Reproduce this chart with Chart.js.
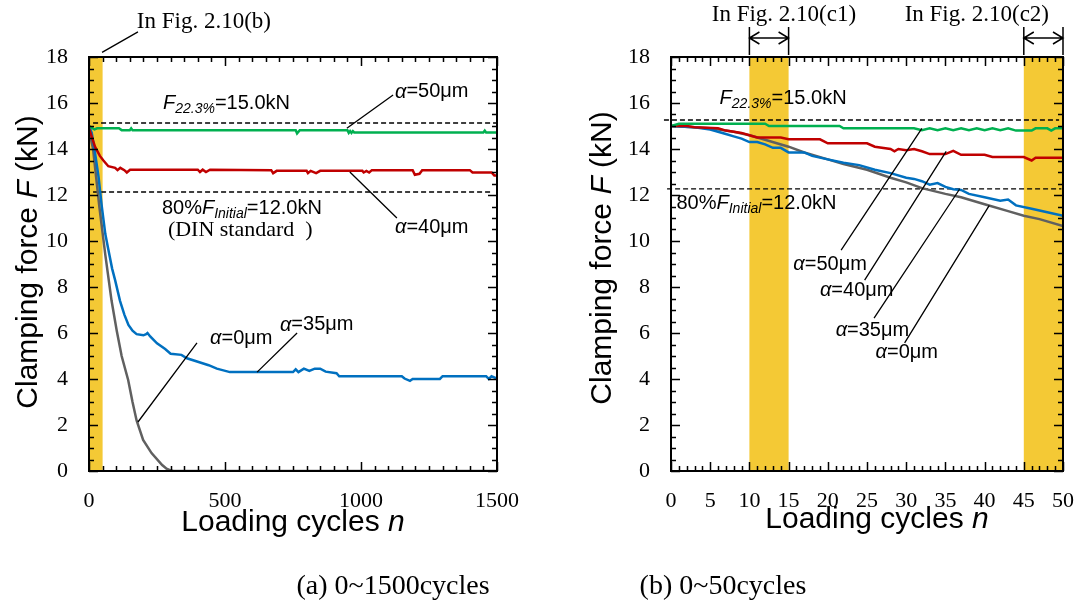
<!DOCTYPE html>
<html>
<head>
<meta charset="utf-8">
<script src="https://cdn.jsdelivr.net/npm/chart.js@4.4.1/dist/chart.umd.min.js"></script>
<style>
  body { margin: 0; background: #fff; }
  #fig { position: relative; width: 1091px; height: 605px; }
  #chartA { position: absolute; left: 0; top: 0; }
  #chartB { position: absolute; left: 545px; top: 0; }
</style>
</head>
<body>
<div id="fig">
  <canvas id="chartA" width="545" height="605"></canvas>
  <canvas id="chartB" width="546" height="605"></canvas>
</div>
<script>
// (a) 0~1500 cycles
const cyclesA50 = [0, 20, 30, 110, 120, 150, 155, 160, 760, 765, 775, 950, 955, 960, 965, 970, 975, 985, 1450, 1455, 1460, 1500];
const forceA50 = [15.0, 14.85, 14.9, 14.9, 14.82, 14.82, 14.9, 14.82, 14.82, 14.68, 14.82, 14.82, 14.7, 14.78, 14.7, 14.78, 14.72, 14.72, 14.72, 14.8, 14.72, 14.72];

const cyclesA40 = [0, 22, 40, 53, 71, 96, 105, 115, 130, 139, 151, 400, 408, 418, 430, 445, 670, 677, 690, 800, 805, 815, 835, 850, 1005, 1010, 1020, 1030, 1040, 1190, 1198, 1215, 1225, 1400, 1410, 1480, 1490, 1500];
const forceA40 = [14.9, 14.1, 13.7, 13.5, 13.25, 13.18, 13.08, 13.18, 13.08, 12.98, 13.1, 13.1, 13.0, 13.1, 13.0, 13.1, 13.08, 12.95, 13.05, 13.05, 12.95, 13.05, 12.95, 13.05, 13.05, 12.98, 13.05, 12.98, 13.08, 13.08, 12.88, 12.92, 13.08, 13.08, 12.98, 12.98, 12.85, 12.85];

const cyclesA35 = [0, 10, 20, 35, 47, 60, 70, 85, 96, 114, 130, 145, 160, 175, 200, 210, 215, 225, 250, 280, 300, 340, 360, 400, 440, 470, 518, 750, 760, 770, 790, 810, 830, 850, 870, 910, 920, 1150, 1160, 1180, 1190, 1290, 1300, 1460, 1470, 1480, 1500];
const forceA35 = [15.0, 14.7, 14.0, 12.8, 11.5, 10.3, 9.7, 8.8, 8.3, 7.4, 6.8, 6.35, 6.1, 5.95, 5.9, 5.95, 6.0, 5.85, 5.55, 5.3, 5.1, 5.05, 4.9, 4.75, 4.6, 4.45, 4.3, 4.3, 4.42, 4.3, 4.45, 4.35, 4.45, 4.45, 4.32, 4.25, 4.12, 4.12, 4.02, 3.92, 4.0, 4.0, 4.12, 4.12, 4.0, 4.12, 4.02];

const cyclesA0 = [0, 15, 38, 60, 83, 102, 120, 144, 160, 175, 199, 230, 269, 285, 300, 310, 1500];
const forceA0 = [14.8, 14.0, 11.5, 9.4, 7.4, 6.1, 5.0, 3.96, 3.0, 2.2, 1.35, 0.78, 0.26, 0.1, 0.03, 0, 0];

// (b) 0~50 cycles
const cyclesB50 = [0, 1, 12, 12.5, 21.5, 22, 31, 32, 33, 34, 35, 36, 37, 38, 39, 40, 41, 42, 43, 44, 46, 46.5, 48, 48.5, 49, 50];
const forceB50 = [15.0, 15.1, 15.1, 15.0, 15.0, 14.9, 14.9, 14.82, 14.9, 14.82, 14.9, 14.82, 14.9, 14.82, 14.9, 14.82, 14.9, 14.82, 14.9, 14.8, 14.8, 14.9, 14.9, 14.8, 14.9, 14.9];

const cyclesB40 = [0, 2, 3, 6, 7, 9, 10, 11, 14, 15, 19, 20, 25, 26, 28, 28.5, 29, 30, 31, 32, 33, 35, 36, 37, 40, 41, 45, 46, 46.5, 50];
const forceB40 = [15.0, 15.0, 14.95, 14.9, 14.8, 14.7, 14.6, 14.5, 14.5, 14.42, 14.42, 14.25, 14.25, 14.1, 14.0, 13.9, 14.0, 13.95, 14.0, 13.9, 13.78, 13.78, 13.92, 13.75, 13.75, 13.65, 13.65, 13.5, 13.62, 13.62];

const cyclesB35 = [0, 3, 5, 7, 8, 9, 10, 11, 12, 13, 14, 15, 17, 18, 20, 22, 24, 26, 28, 30, 31, 32, 33, 34, 35, 36, 37, 38, 40, 42, 43, 44, 46, 48, 50];
const forceB35 = [15.0, 14.95, 14.85, 14.65, 14.55, 14.45, 14.3, 14.3, 14.2, 14.05, 14.05, 13.85, 13.85, 13.7, 13.55, 13.4, 13.3, 13.1, 12.95, 12.75, 12.7, 12.6, 12.45, 12.52, 12.35, 12.25, 12.22, 12.05, 11.9, 11.75, 11.8, 11.55, 11.4, 11.25, 11.1];

const cyclesB0 = [0, 5, 8, 10, 12, 15, 17, 20, 22, 25, 28, 30, 32, 35, 37, 40, 43, 45, 47, 50];
const forceB0 = [15.0, 14.9, 14.75, 14.6, 14.4, 14.1, 13.85, 13.55, 13.35, 13.1, 12.75, 12.55, 12.3, 12.05, 11.9, 11.6, 11.3, 11.1, 10.95, 10.65];

// reference levels (F22.3% and 80% F initial) and highlighted ranges
const refLevelsA = [15.13, 12.13];
const refLevelsB = [15.26, 12.27];
const bandsA = [[0, 50]];
const bandsB = [[10, 15], [45, 50]];

const SANS = '"Liberation Sans", Arial, sans-serif';
const SERIF = '"Liberation Serif", "Times New Roman", serif';
const GREEN = '#00b050', RED = '#c00000', BLUE = '#0070c0', GRAY = '#606060', YELLOW = '#f4c935';

const toPoints = (xs, ys) => xs.map((v, i) => ({ x: v, y: ys[i] }));
const series = (label, xs, ys, color) => ({
  label, data: toPoints(xs, ys), borderColor: color, borderWidth: 2.5,
  pointRadius: 0, tension: 0, fill: false
});
const refLine = (x0, x1, level) => ({
  label: 'ref', data: [{ x: x0, y: level }, { x: x1, y: level }], borderColor: '#000',
  borderWidth: 1.3, borderDash: [5, 3], pointRadius: 0, fill: false, clip: false
});

// text helpers: each part is [text, font, dy]
const alpha = (rest) => [['α', 'italic 20px ' + SANS, 0], [rest, '20px ' + SANS, 0]];
const f223 = [['F', 'italic 20px ' + SANS, 0], ['22.3%', 'italic 14px ' + SANS, 6], ['=15.0kN', '20px ' + SANS, 0]];
const f80 = [['80%', '20px ' + SANS, 0], ['F', 'italic 20px ' + SANS, 0], ['Initial', 'italic 14px ' + SANS, 6], ['=12.0kN', '20px ' + SANS, 0]];
const serif = (t, size) => [[t, size + 'px ' + SERIF, 0]];

function drawParts(ctx, parts, x, y, align) {
  let w = 0;
  parts.forEach(p => { ctx.font = p[1]; w += ctx.measureText(p[0]).width; });
  let cx = align === 'center' ? x - w / 2 : x;
  parts.forEach(p => {
    ctx.font = p[1];
    ctx.fillText(p[0], cx, y + p[2]);
    cx += ctx.measureText(p[0]).width;
  });
}

const decor = {
  id: 'decor',
  beforeDatasetsDraw(chart, args, opts) {
    const { ctx, chartArea: a, scales: { x } } = chart;
    ctx.save();
    ctx.fillStyle = YELLOW;
    opts.bands.forEach(([s, e]) => {
      const x0 = x.getPixelForValue(s), x1 = x.getPixelForValue(e);
      ctx.fillRect(x0, a.top, x1 - x0, a.bottom - a.top);
    });
    ctx.restore();
  },
  afterDatasetsDraw(chart, args, opts) {
    const { ctx, chartArea: a, scales: { x, y } } = chart;
    ctx.save();
    ctx.strokeStyle = '#000';
    ctx.fillStyle = '#000';

    // inward ticks on all four sides
    ctx.lineWidth = 1.5;
    ctx.beginPath();
    for (let v = x.min; v <= x.max + 1e-9; v += opts.xMinor) {
      const px = Math.round(x.getPixelForValue(v)) + 0.5;
      const len = Math.abs(v / opts.xMajor - Math.round(v / opts.xMajor)) < 1e-6 ? 9 : 5;
      ctx.moveTo(px, a.bottom); ctx.lineTo(px, a.bottom - len);
      ctx.moveTo(px, a.top); ctx.lineTo(px, a.top + len);
    }
    for (let v = y.min; v <= y.max + 1e-9; v += opts.yMinor) {
      const py = Math.round(y.getPixelForValue(v)) + 0.5;
      const len = Math.abs(v / opts.yMajor - Math.round(v / opts.yMajor)) < 1e-6 ? 9 : 5;
      ctx.moveTo(a.left, py); ctx.lineTo(a.left + len, py);
      ctx.moveTo(a.right, py); ctx.lineTo(a.right - len, py);
    }
    ctx.stroke();

    // frame
    ctx.lineWidth = 2;
    ctx.strokeRect(a.left, a.top, a.right - a.left, a.bottom - a.top);

    // leader lines
    ctx.lineWidth = 1.3;
    ctx.beginPath();
    opts.leaders.forEach(([x1, y1, x2, y2]) => {
      ctx.moveTo(x.getPixelForValue(x1), y.getPixelForValue(y1));
      ctx.lineTo(x.getPixelForValue(x2), y.getPixelForValue(y2));
    });
    ctx.stroke();

    // range brackets with double arrows above the plot
    (opts.brackets || []).forEach(([s, e]) => {
      const x0 = x.getPixelForValue(s), x1 = x.getPixelForValue(e);
      const ay = a.top - 19;
      ctx.lineWidth = 1.5;
      ctx.beginPath();
      ctx.moveTo(x0, a.top - 30); ctx.lineTo(x0, a.top - 2);
      ctx.moveTo(x1, a.top - 30); ctx.lineTo(x1, a.top - 2);
      ctx.moveTo(x0, ay); ctx.lineTo(x1, ay);
      ctx.moveTo(x0 + 10, ay - 6); ctx.lineTo(x0, ay); ctx.lineTo(x0 + 10, ay + 6);
      ctx.moveTo(x1 - 10, ay - 6); ctx.lineTo(x1, ay); ctx.lineTo(x1 - 10, ay + 6);
      ctx.stroke();
    });

    // labels
    ctx.textBaseline = 'middle';
    ctx.textAlign = 'left';
    opts.labels.forEach(l => drawParts(ctx, l.parts, x.getPixelForValue(l.at[0]), y.getPixelForValue(l.at[1]), 'left'));

    // axis titles
    ctx.save();
    ctx.translate(opts.yTitle[0], opts.yTitle[1]);
    ctx.rotate(-Math.PI / 2);
    drawParts(ctx, [['Clamping force ', '30px ' + SANS, 0], ['F', 'italic 30px ' + SANS, 0], [' (kN)', '30px ' + SANS, 0]], 0, 0, 'center');
    ctx.restore();
    drawParts(ctx, [['Loading cycles ', '30px ' + SANS, 0], ['n', 'italic 30px ' + SANS, 0]], opts.xTitle[0], opts.xTitle[1], 'center');

    // panel caption
    drawParts(ctx, serif(opts.caption[0], 28), opts.caption[1], opts.caption[2], 'center');
    ctx.restore();
  }
};

function makeChart(id, datasets, xMax, xStep, yAxisWidth, padRight, decorOpts) {
  return new Chart(document.getElementById(id), {
    type: 'line',
    data: { datasets },
    options: {
      responsive: false,
      animation: false,
      devicePixelRatio: 1,
      layout: { padding: { top: 57, right: padRight, left: 0, bottom: 0 } },
      scales: {
        x: {
          type: 'linear', min: 0, max: xMax,
          border: { display: false },
          grid: { display: false, drawTicks: false },
          ticks: {
            stepSize: xStep, padding: 17, color: '#000', maxRotation: 0,
            font: { family: SERIF, size: 22 },
            callback: v => String(v)
          },
          afterFit: s => { s.height = 134; }
        },
        y: {
          min: 0, max: 18,
          border: { display: false },
          grid: { display: false, drawTicks: false },
          ticks: { stepSize: 2, padding: 21, color: '#000', font: { family: SERIF, size: 22 } },
          afterFit: s => { s.width = yAxisWidth; }
        }
      },
      plugins: {
        legend: { display: false },
        tooltip: { enabled: false },
        decor: decorOpts
      }
    },
    plugins: [decor]
  });
}

makeChart('chartA', [
  series('α=50μm', cyclesA50, forceA50, GREEN),
  series('α=40μm', cyclesA40, forceA40, RED),
  series('α=35μm', cyclesA35, forceA35, BLUE),
  series('α=0μm', cyclesA0, forceA0, GRAY),
  refLine(15, 1500, refLevelsA[0]),
  refLine(15, 1480, refLevelsA[1])
], 1500, 500, 89, 48, {
  bands: bandsA,
  xMinor: 50, xMajor: 500, yMinor: 0.5, yMajor: 2,
  leaders: [[180, 19.09, 48, 18.2], [1118, 16.35, 948, 14.9], [1132, 11.0, 959, 13.0], [397, 5.57, 180, 2.13], [765, 6.0, 618, 4.3]],
  labels: [
    { at: [176, 19.52], parts: serif('In Fig. 2.10(b)', 23) },
    { at: [272, 16.0], parts: f223 },
    { at: [1125, 16.48], parts: alpha('=50μm') },
    { at: [1125, 10.6], parts: alpha('=40μm') },
    { at: [268, 11.43], parts: f80 },
    { at: [290, 10.48], parts: serif('(DIN standard  )', 22) },
    { at: [445, 5.78], parts: alpha('=0μm') },
    { at: [702, 6.35], parts: alpha('=35μm') }
  ],
  yTitle: [29, 262],
  xTitle: [293, 523],
  caption: ['(a) 0~1500cycles', 393, 587]
});

makeChart('chartB', [
  series('α=50μm', cyclesB50, forceB50, GREEN),
  series('α=40μm', cyclesB40, forceB40, RED),
  series('α=35μm', cyclesB35, forceB35, BLUE),
  series('α=0μm', cyclesB0, forceB0, GRAY),
  refLine(-0.9, 49.5, refLevelsB[0]),
  refLine(-0.5, 49.8, refLevelsB[1])
], 50, 5, 126, 23, {
  bands: bandsB,
  xMinor: 1, xMajor: 5, yMinor: 0.5, yMajor: 2,
  brackets: [[10, 15], [45, 50]],
  leaders: [[21.7, 9.6, 32.0, 14.9], [24.7, 8.3, 35.1, 13.9], [25.9, 6.65, 36.8, 12.25], [29.8, 5.57, 40.6, 11.55]],
  labels: [
    { at: [5.2, 19.83], parts: serif('In Fig. 2.10(c1)', 23) },
    { at: [29.8, 19.83], parts: serif('In Fig. 2.10(c2)', 23) },
    { at: [6.2, 16.2], parts: f223 },
    { at: [0.7, 11.64], parts: f80 },
    { at: [15.6, 8.96], parts: alpha('=50μm') },
    { at: [19.0, 7.87], parts: alpha('=40μm') },
    { at: [21.0, 6.13], parts: alpha('=35μm') },
    { at: [26.1, 5.17], parts: alpha('=0μm') }
  ],
  yTitle: [58, 258],
  xTitle: [332, 520],
  caption: ['(b) 0~50cycles', 178, 587]
});
</script>
</body>
</html>
